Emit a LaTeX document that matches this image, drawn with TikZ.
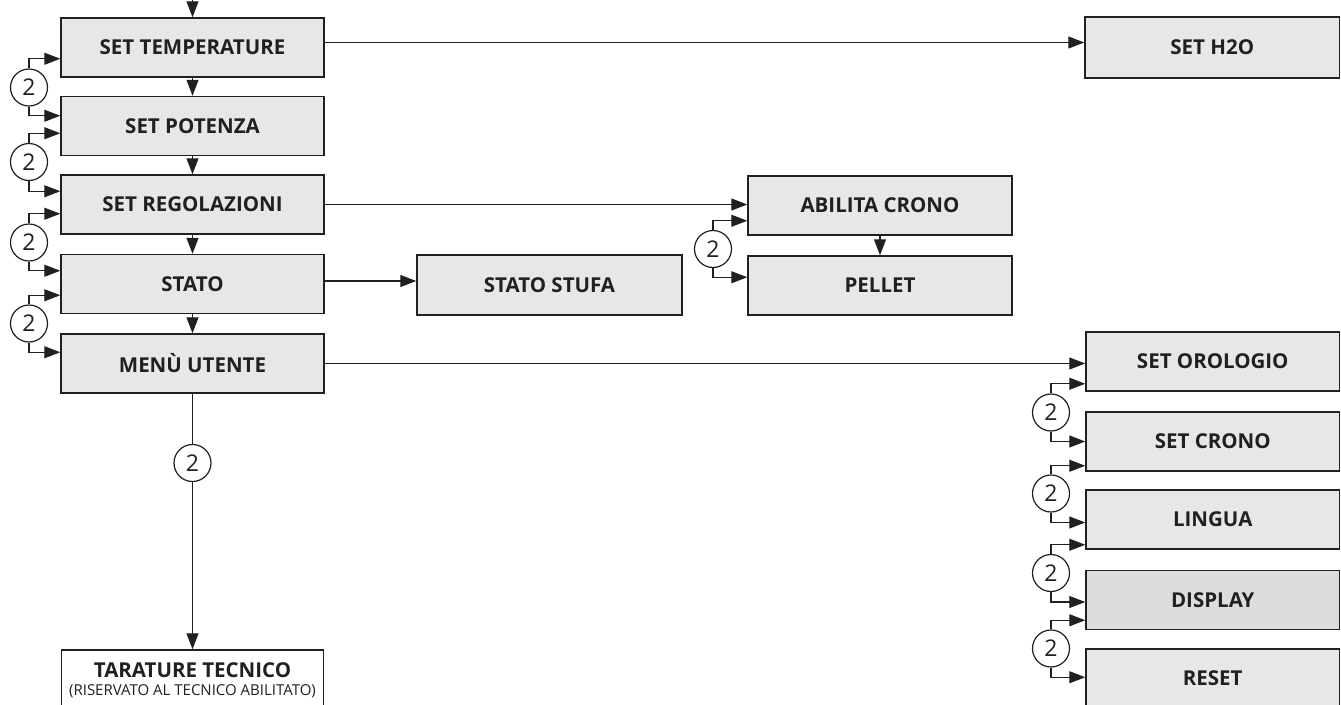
\documentclass[tikz,border=0pt]{standalone}
\usepackage{fontspec}
\setmainfont{Open Sans}
\usetikzlibrary{arrows.meta,calc}
\definecolor{boxfill}{HTML}{E6E7E8}
\definecolor{dispfill}{HTML}{DCDDDE}
\definecolor{ink}{HTML}{231F20}
\tikzset{
  box/.style={draw=ink, line width=1.5pt, fill=boxfill, minimum height=59pt, inner sep=0pt,
    font=\bfseries\fontsize{20.5}{22}\selectfont, text=ink},
  arr/.style={draw=ink, line width=1.2pt, -{Triangle[length=16pt,width=12pt]}},
  num/.style={circle, draw=ink, line width=1.2pt, fill=white, minimum size=37pt, inner sep=0pt,
    font=\fontsize{23}{25}\selectfont, text=ink},
}
\begin{document}
\begin{tikzpicture}[x=1pt,y=-1pt]
\useasboundingbox (0,0) rectangle (1341,704);
% left column
\node[box, minimum width=263pt] (setT) at (192.5,47.5) {SET TEMPERATURE};
\node[box, minimum width=263pt] (setP) at (192.5,126) {SET POTENZA};
\node[box, minimum width=263pt] (setR) at (192.5,204.5) {SET REGOLAZIONI};
\node[box, minimum width=263pt] (stato) at (192.5,284) {STATO};
\node[box, minimum width=263pt] (menu) at (192.5,363.5) {MENÙ UTENTE};
\node[box, minimum width=262pt, minimum height=60pt, fill=white, align=center] (tar) at (192.5,680)
  {TARATURE TECNICO\\[-4pt]{\mdseries\fontsize{15}{16}\selectfont (RISERVATO AL TECNICO ABILITATO)}};
% other boxes
\node[box, minimum width=254.5pt, minimum height=61pt] (h2o) at (1212.25,47.5) {SET H2O};
\node[box, minimum width=264pt] (abil) at (880,205.5) {ABILITA CRONO};
\node[box, minimum width=264pt] (pellet) at (880,285.5) {PELLET};
\node[box, minimum width=265pt, minimum height=60pt] (stufa) at (549.5,285) {STATO STUFA};
\node[box, minimum width=253.5pt] (orol) at (1212.75,361.5) {SET OROLOGIO};
\node[box, minimum width=253.5pt] (crono) at (1212.75,441.5) {SET CRONO};
\node[box, minimum width=253.5pt] (lingua) at (1212.75,519.5) {LINGUA};
\node[box, minimum width=253.5pt, fill=dispfill] (display) at (1212.75,600) {DISPLAY};
\node[box, minimum width=253.5pt] (reset) at (1212.75,678.5) {RESET};
% top entry
\coordinate (start) at (192.5,-2);
\draw[arr] (start) -- (setT.north);
% vertical chain
\draw[arr] (setT.south) -- (setP.north);
\draw[arr] (setP.south) -- (setR.north);
\draw[arr] (setR.south) -- (stato.north);
\draw[arr] (stato.south) -- (menu.north);
\draw[arr] (abil.south) -- (pellet.north);
% horizontal links
\draw[arr] ([yshift=5pt]setT.east) -- ([yshift=5pt]setT.east -| h2o.west);
\draw[arr] (setR.east) -- (setR.east -| abil.west);
\draw[arr] ([yshift=3pt]stato.east) -- ([yshift=3pt]stato.east -| stufa.west);
\draw[arr] (menu.east) -- (menu.east -| orol.west);
% down to tarature
\draw[arr] (menu.south) -- (menu.south |- tar.north);
\node[num] (lt) at (192.5,463) {2};
% left loops
\node[num] (l1) at (29,87.5) {2};
\draw[arr] (l1.north) |- ([yshift=19pt]setT.south west);
\draw[arr] (l1.south) |- ([yshift=-20pt]setP.north west);
\node[num] (l2) at (29,162) {2};
\draw[arr] (l2.north) |- ([yshift=23pt]setP.south west);
\draw[arr] (l2.south) |- ([yshift=-17pt]setR.north west);
\node[num] (l3) at (29,242.5) {2};
\draw[arr] (l3.north) |- ([yshift=21pt]setR.south west);
\draw[arr] (l3.south) |- ([yshift=-17pt]stato.north west);
\node[num] (l4) at (29,323.5) {2};
\draw[arr] (l4.north) |- ([yshift=19pt]stato.south west);
\draw[arr] (l4.south) |- ([yshift=-19pt]menu.north west);
% middle loop
\node[num] (m1) at (713,249) {2};
\draw[arr] (m1.north) |- ([yshift=15pt]abil.south west);
\draw[arr] (m1.south) |- ([yshift=-22pt]pellet.north west);
% right loops
\node[num] (r1) at (1051,412.5) {2};
\draw[arr] (r1.north) |- ([yshift=8pt]orol.south west);
\draw[arr] (r1.south) |- (crono.west);
\node[num] (r2) at (1051,493.5) {2};
\draw[arr] (r2.north) |- ([yshift=6pt]crono.south west);
\draw[arr] (r2.south) |- ([yshift=-3pt]lingua.west);
\node[num] (r3) at (1051,573) {2};
\draw[arr] (r3.north) |- ([yshift=5pt]lingua.south west);
\draw[arr] (r3.south) |- ([yshift=-2pt]display.west);
\node[num] (r4) at (1051,648.5) {2};
\draw[arr] (r4.north) |- ([yshift=10pt]display.south west);
\draw[arr] (r4.south) |- ([yshift=-29pt]reset.north west);
\end{tikzpicture}
\end{document}
